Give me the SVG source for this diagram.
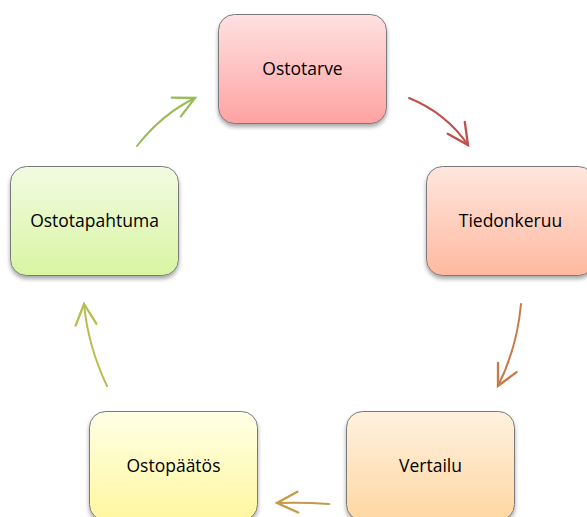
<svg xmlns="http://www.w3.org/2000/svg" width="587" height="517" viewBox="0 0 587 517">
<defs>
<style>
.box{stroke:#7a7a7a;stroke-width:1;filter:url(#sh)}
.lbl{font-family:"Open Sans","Liberation Sans",sans-serif;font-size:17.5px;fill:#000;text-anchor:middle}
.arr{fill:none;stroke-width:2;stroke-linecap:round}
</style>
<filter id="sh" x="-10%" y="-10%" width="120%" height="130%">
<feGaussianBlur in="SourceAlpha" stdDeviation="2"/>
<feOffset dy="3"/>
<feComponentTransfer><feFuncA type="linear" slope="0.35"/></feComponentTransfer>
<feMerge><feMergeNode/><feMergeNode in="SourceGraphic"/></feMerge>
</filter>
<linearGradient id="g1" x1="0" y1="0" x2="0" y2="1"><stop offset="0" stop-color="#ffe1e1"/><stop offset="1" stop-color="#ffa2a2"/></linearGradient>
<linearGradient id="g2" x1="0" y1="0" x2="0" y2="1"><stop offset="0" stop-color="#ffe6dd"/><stop offset="1" stop-color="#ffb9a0"/></linearGradient>
<linearGradient id="g3" x1="0" y1="0" x2="0" y2="1"><stop offset="0" stop-color="#fff1df"/><stop offset="1" stop-color="#ffd7a2"/></linearGradient>
<linearGradient id="g4" x1="0" y1="0" x2="0" y2="1"><stop offset="0" stop-color="#ffffe6"/><stop offset="1" stop-color="#fff7a0"/></linearGradient>
<linearGradient id="g5" x1="0" y1="0" x2="0" y2="1"><stop offset="0" stop-color="#f2fbe2"/><stop offset="1" stop-color="#d9f5a2"/></linearGradient>
<marker id="m1" markerUnits="userSpaceOnUse" markerWidth="30" markerHeight="30" refX="0" refY="0" viewBox="-22 -12 26 24" orient="auto" overflow="visible"><path d="M-18,-9 L0,0 L-18,9" fill="none" stroke="#c0504d" stroke-width="2" stroke-linecap="round"/></marker>
<marker id="m2" markerUnits="userSpaceOnUse" markerWidth="30" markerHeight="30" refX="0" refY="0" viewBox="-22 -12 26 24" orient="auto" overflow="visible"><path d="M-18,-9 L0,0 L-18,9" fill="none" stroke="#c87a48" stroke-width="2" stroke-linecap="round"/></marker>
<marker id="m3" markerUnits="userSpaceOnUse" markerWidth="30" markerHeight="30" refX="0" refY="0" viewBox="-22 -12 26 24" orient="auto" overflow="visible"><path d="M-18,-9 L0,0 L-18,9" fill="none" stroke="#c49a48" stroke-width="2" stroke-linecap="round"/></marker>
<marker id="m4" markerUnits="userSpaceOnUse" markerWidth="30" markerHeight="30" refX="0" refY="0" viewBox="-22 -12 26 24" orient="auto" overflow="visible"><path d="M-18,-9 L0,0 L-18,9" fill="none" stroke="#b9bc4e" stroke-width="2" stroke-linecap="round"/></marker>
<marker id="m5" markerUnits="userSpaceOnUse" markerWidth="30" markerHeight="30" refX="0" refY="0" viewBox="-22 -12 26 24" orient="auto" overflow="visible"><path d="M-18,-9 L0,0 L-18,9" fill="none" stroke="#9bbb59" stroke-width="2" stroke-linecap="round"/></marker>
</defs>
<rect width="587" height="517" fill="#fff"/>
<g id="connectors">
<path class="arr" d="M409,98 Q446,113 468,145" stroke="#c0504d" marker-end="url(#m1)"/>
<path class="arr" d="M521,304 Q517,348 498,386" stroke="#c87a48" marker-end="url(#m2)"/>
<path class="arr" d="M329,504 Q302,502 277,503" stroke="#c49a48" marker-end="url(#m3)"/>
<path class="arr" d="M107,386 Q88,346 84,304" stroke="#b9bc4e" marker-end="url(#m4)"/>
<path class="arr" d="M137,146 Q162,114 195,98" stroke="#9bbb59" marker-end="url(#m5)"/>
</g>
<g id="ostotarve"><rect class="box" x="218.5" y="14.5" width="168" height="109" rx="16" fill="url(#g1)"/><text class="lbl" x="302.5" y="75">Ostotarve</text></g>
<g id="tiedonkeruu"><rect class="box" x="426.5" y="166.5" width="168" height="109" rx="16" fill="url(#g2)"/><text class="lbl" x="510.5" y="227">Tiedonkeruu</text></g>
<g id="vertailu"><rect class="box" x="346.5" y="411.5" width="168" height="109" rx="16" fill="url(#g3)"/><text class="lbl" x="430.5" y="472">Vertailu</text></g>
<g id="ostopaatos"><rect class="box" x="89.5" y="411.5" width="168" height="109" rx="16" fill="url(#g4)"/><text class="lbl" x="173.5" y="472">Ostopäätös</text></g>
<g id="ostotapahtuma"><rect class="box" x="10.5" y="166.5" width="168" height="109" rx="16" fill="url(#g5)"/><text class="lbl" x="94.5" y="227">Ostotapahtuma</text></g>
</svg>
